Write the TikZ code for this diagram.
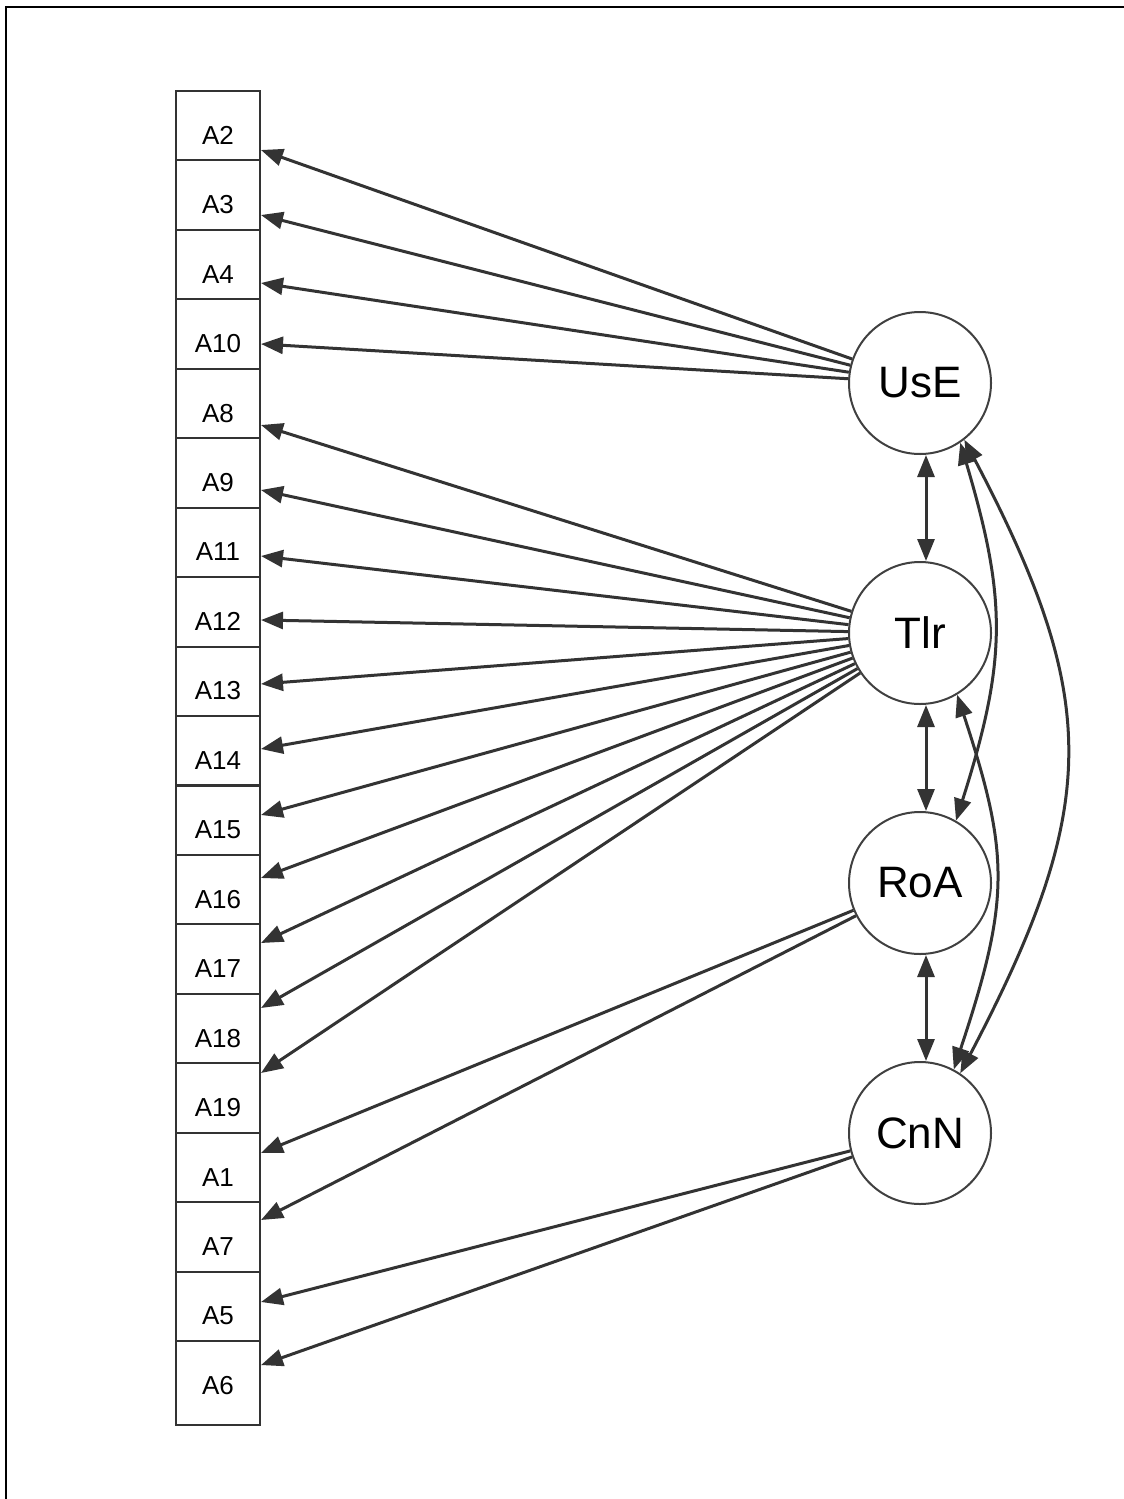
\documentclass[tikz,border=0pt]{standalone}
\usepackage{fontspec}
\setmainfont{Liberation Sans}
\usetikzlibrary{arrows.meta,calc}
\definecolor{edge}{HTML}{333333}
\definecolor{ring}{HTML}{404040}
\begin{document}
\begin{tikzpicture}[x=0.5pt,y=-0.5pt,
 box/.style={draw=edge, line width=1pt, inner sep=0pt, minimum width=42pt,
   text height=26.65pt, text depth=8.07pt, font=\fontsize{13pt}{15pt}\selectfont},
 lastbox/.style={box, text depth=15.3pt},
 lat/.style={draw=ring, circle, line width=1pt, minimum size=71pt, inner sep=0pt,
   font=\fontsize{22pt}{26pt}\selectfont},
 tip/.style={Triangle[length=11pt,width=8.5pt]},
 arr/.style={draw=edge, line width=1.5pt, -{Triangle[length=11pt,width=8.5pt]}},
 dbl/.style={draw=edge, line width=1.5pt, {Triangle[length=11pt,width=8.5pt]}-{Triangle[length=11pt,width=8.5pt]}},
 frame/.style={draw=black, line width=1.2pt}
]
\useasboundingbox (0,0) rectangle (1124,1499);
% frame (top and left edges)
\draw[frame] (1124,7) -- (6,7) -- (6,1499);

% indicator boxes
\node[box] (A2)  at (218,125.7)  {A2};
\node[box] (A3)  at (218,195.2)  {A3};
\node[box] (A4)  at (218,264.6)  {A4};
\node[box] (A10) at (218,334.1)  {A10};
\node[box] (A8)  at (218,403.5)  {A8};
\node[box] (A9)  at (218,473.0)  {A9};
\node[box] (A11) at (218,542.4)  {A11};
\node[box] (A12) at (218,611.9)  {A12};
\node[box] (A13) at (218,681.3)  {A13};
\node[box] (A14) at (218,750.8)  {A14};
\node[box] (A15) at (218,820.2)  {A15};
\node[box] (A16) at (218,889.7)  {A16};
\node[box] (A17) at (218,959.1)  {A17};
\node[box] (A18) at (218,1028.6) {A18};
\node[box] (A19) at (218,1098.0) {A19};
\node[box] (A1)  at (218,1167.5) {A1};
\node[box] (A7)  at (218,1236.9) {A7};
\node[box] (A5)  at (218,1306.4) {A5};
\node[lastbox] (A6) at (218,1383.05) {A6};

% latent variables
\node[lat] (UsE) at (920,383)  {UsE};
\node[lat] (Tlr) at (920,633)  {Tlr};
\node[lat] (RoA) at (920,883)  {RoA};
\node[lat] (CnN) at (920,1133) {CnN};

% loadings UsE
\draw[arr] (UsE) -- ($(A2.east)+(0,24.3)$);
\draw[arr] (UsE) -- ($(A3.east)+(0,19.8)$);
\draw[arr] (UsE) -- ($(A4.east)+(0,18.4)$);
\draw[arr] (UsE) -- ($(A10.east)+(0,9.9)$);
% loadings Tlr
\draw[arr] (Tlr) -- ($(A8.east)+(0,21.5)$);
\draw[arr] (Tlr) -- ($(A9.east)+(0,17.0)$);
\draw[arr] (Tlr) -- ($(A11.east)+(0,13.6)$);
\draw[arr] (Tlr) -- ($(A12.east)+(0,8.1)$);
\draw[arr] (Tlr) -- ($(A13.east)+(0,2.7)$);
\draw[arr] (Tlr) -- ($(A14.east)+(0,-1.8)$);
\draw[arr] (Tlr) -- ($(A15.east)+(0,-5.2)$);
\draw[arr] (Tlr) -- ($(A16.east)+(0,-11.7)$);
\draw[arr] (Tlr) -- ($(A17.east)+(0,-16.1)$);
\draw[arr] (Tlr) -- ($(A18.east)+(0,-20.6)$);
\draw[arr] (Tlr) -- ($(A19.east)+(0,-25.0)$);
% loadings RoA
\draw[arr] (RoA) -- ($(A1.east)+(0,-14.5)$);
\draw[arr] (RoA) -- ($(A7.east)+(0,-16.9)$);
% loadings CnN
\draw[arr] (CnN) -- ($(A5.east)+(0,-4.4)$);
\draw[arr] (CnN) -- ($(A6.east)+(0,-18)$);

% covariances
\draw[dbl] ([xshift=3pt]UsE.south) -- ([xshift=3pt]Tlr.north);
\draw[dbl] ([xshift=3pt]Tlr.south) -- ([xshift=3pt]RoA.north);
\draw[dbl] ([xshift=3pt]RoA.south) -- ([xshift=3pt]CnN.north);
\draw[dbl] (UsE.-56) .. controls (1007,600) and (1007,660) .. (RoA.60);
\draw[dbl] (Tlr.-59) .. controls (1010,855) and (1010,900) .. (CnN.62);
\draw[dbl] (UsE.-52) .. controls (1101,700) and (1101,805) .. (CnN.56);
\end{tikzpicture}
\end{document}
